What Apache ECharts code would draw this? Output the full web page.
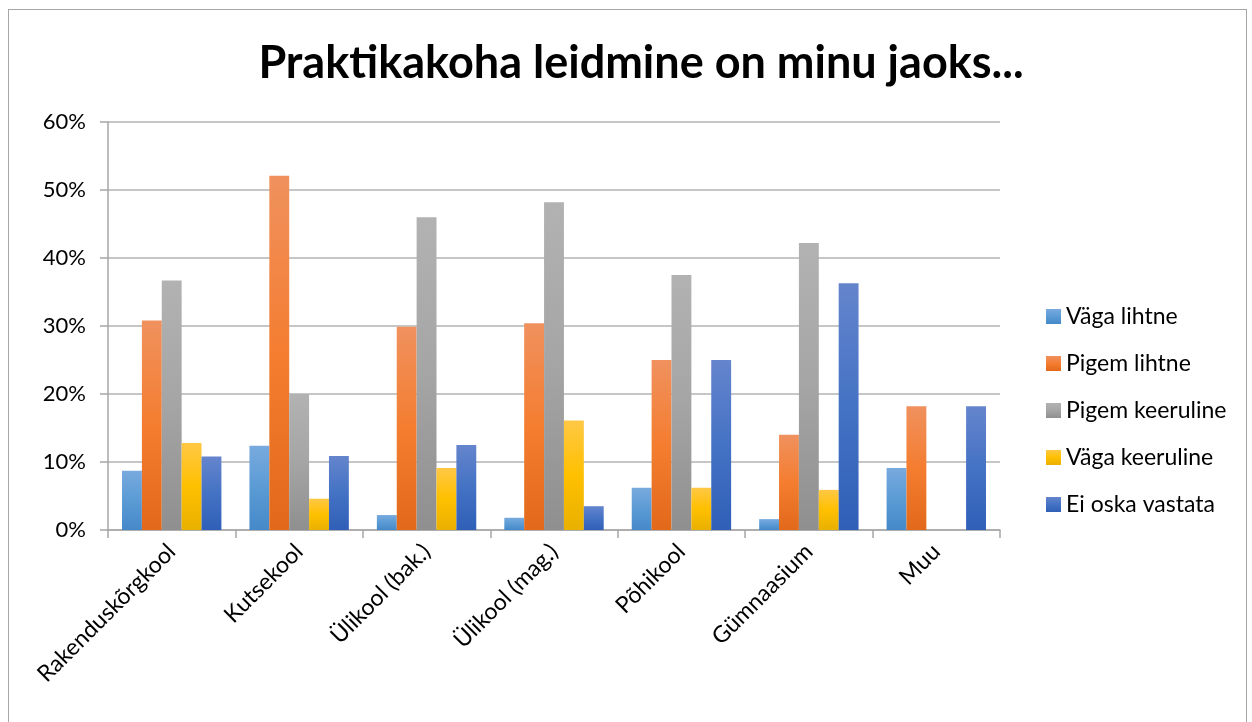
<!DOCTYPE html>
<html>
<head>
<meta charset="utf-8">
<script src="https://cdn.jsdelivr.net/npm/echarts@6/dist/echarts.min.js"></script>
<style>
  html, body { margin: 0; padding: 0; background: #fff; }
  #frame {
    position: absolute; left: 8px; top: 9px; width: 1239px; height: 740px;
    border: 1px solid #a6a6a6; box-sizing: border-box;
  }
  #main { position: absolute; left: 0; top: 0; width: 1252px; height: 722px; }
</style>
</head>
<body>
<div id="frame"></div>
<div id="main"></div>
<script>
// andmed
var categories = ['Rakenduskõrgkool', 'Kutsekool', 'Ülikool (bak.)', 'Ülikool (mag.)', 'Põhikool', 'Gümnaasium', 'Muu']
var vagaLihtne = [8.7, 12.4, 2.2, 1.8, 6.2, 1.6, 9.1]
var pigemLihtne = [30.8, 52.1, 29.9, 30.4, 25.0, 14.0, 18.2]
var pigemKeeruline = [36.7, 20.0, 46.0, 48.2, 37.5, 42.2, 0]
var vagaKeeruline = [12.8, 4.6, 9.1, 16.1, 6.2, 5.9, 0]
var eiOska = [10.8, 10.9, 12.5, 3.5, 25.0, 36.3, 18.2]
var yTicks = [0, 10, 20, 30, 40, 50, 60]

var myChart = echarts.init(document.getElementById('main'))

function grad(top, mid, bottom) {
  return new echarts.graphic.LinearGradient(0, 0, 0, 1, [
    { offset: 0, color: top },
    { offset: 0.5, color: mid },
    { offset: 1, color: bottom }
  ])
}

function bar(name, data, top, mid, bottom) {
  return {
    name: name,
    type: 'bar',
    barGap: '0%',
    barCategoryGap: '22%',
    itemStyle: { color: grad(top, mid, bottom) },
    data: data
  }
}

var font = 'Lato, "Open Sans", sans-serif'

myChart.setOption({
  animation: false,
  title: {
    text: 'Praktikakoha leidmine on minu jaoks...',
    left: 636,
    textAlign: 'center',
    top: 36,
    textStyle: { fontFamily: font, fontSize: 45, fontWeight: 'bold', color: '#000' }
  },
  legend: {
    orient: 'vertical',
    left: 1041,
    top: 300,
    itemWidth: 15,
    itemHeight: 15,
    itemGap: 24,
    icon: 'rect',
    textStyle: { fontFamily: font, fontSize: 23, color: '#000' },
    data: ['Väga lihtne', 'Pigem lihtne', 'Pigem keeruline', 'Väga keeruline', 'Ei oska vastata']
  },
  grid: { left: 108, right: 252, top: 122, bottom: 192 },
  xAxis: {
    type: 'category',
    data: categories,
    boundaryGap: true,
    axisLine: { show: true, lineStyle: { color: '#a6a6a6', width: 1.5 } },
    axisTick: { show: true, length: 8, alignWithLabel: false, lineStyle: { color: '#a6a6a6', width: 1.5 } },
    axisLabel: {
      rotate: 45,
      interval: 0,
      margin: 18,
      fontFamily: font,
      fontSize: 23,
      color: '#000'
    }
  },
  yAxis: {
    type: 'value',
    min: 0,
    max: 60,
    interval: 10,
    axisLine: { show: true, lineStyle: { color: '#a6a6a6', width: 1.5 } },
    axisTick: { show: true, length: 8, lineStyle: { color: '#a6a6a6', width: 1.5 } },
    splitLine: { show: true, lineStyle: { color: '#b3b3b3', width: 1.5 } },
    axisLabel: {
      margin: 22,
      fontFamily: font,
      fontSize: 22,
      color: '#000',
      formatter: function (v) { return yTicks.indexOf(v) >= 0 ? v + '%' : '' }
    }
  },
  series: [
    bar('Väga lihtne', vagaLihtne, '#78aade', '#5b9bd5', '#4589c9'),
    bar('Pigem lihtne', pigemLihtne, '#f0915e', '#f47d30', '#e2691a'),
    bar('Pigem keeruline', pigemKeeruline, '#b2b2b2', '#a5a5a5', '#8f8f8f'),
    bar('Väga keeruline', vagaKeeruline, '#ffc845', '#ffc000', '#e8b000'),
    bar('Ei oska vastata', eiOska, '#6585cd', '#4472c4', '#2f5fb7')
  ]
})
</script>
</body>
</html>
